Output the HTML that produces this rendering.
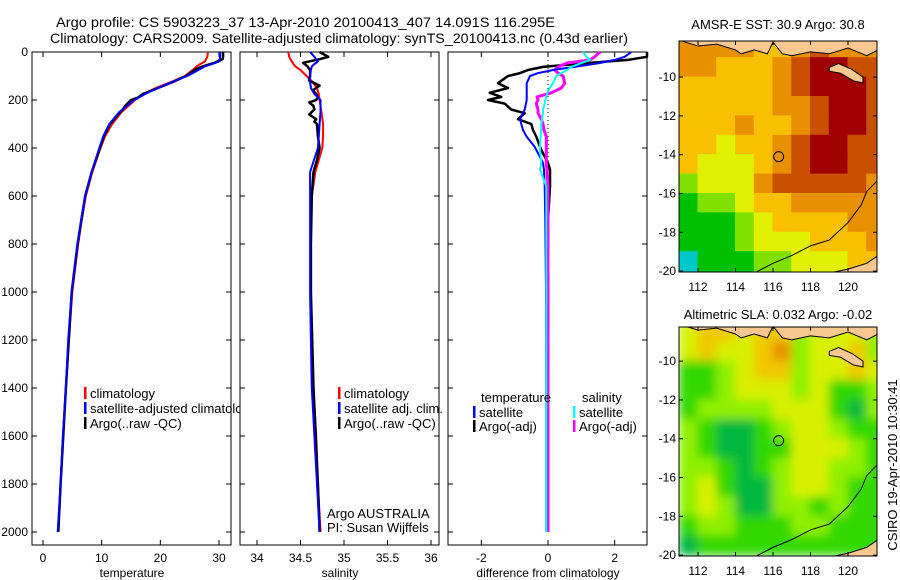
<!DOCTYPE html>
<html><head><meta charset="utf-8">
<style>
html,body{margin:0;padding:0;background:#fff;}
svg{display:block;font-family:"Liberation Sans",sans-serif;}
text{fill:#000;}
</style></head>
<body>
<svg id="fig" width="900" height="580" viewBox="0 0 900 580" xmlns="http://www.w3.org/2000/svg">
<text x="56" y="27" font-size="14" textLength="499" lengthAdjust="spacingAndGlyphs">Argo profile: CS 5903223_37 13-Apr-2010 20100413_407 14.091S 116.295E</text>
<text x="50" y="43" font-size="14" textLength="578" lengthAdjust="spacingAndGlyphs">Climatology: CARS2009. Satellite-adjusted climatology: synTS_20100413.nc (0.43d earlier)</text>
<g id="plots"></g>
<text x="778" y="29" font-size="13" text-anchor="middle">AMSR-E SST: 30.9 Argo: 30.8</text>
<text x="778" y="319" font-size="13" text-anchor="middle">Altimetric SLA: 0.032 Argo: -0.02</text>
<text transform="translate(897,465) rotate(-90)" font-size="13" text-anchor="middle">CSIRO 19-Apr-2010 10:30:41</text>
</svg>
<script>
// ---------- data ----------
const depths = [0,20,40,50,60,75,100,125,150,175,200,250,300,350,400,500,600,700,800,1000,1200,1400,1600,1800,2000];
const tempClim = [28.1,28,27.6,26.8,26.2,25.5,24.2,21.8,19.2,17.2,15.7,13.4,11.8,10.6,9.8,8.4,7.3,6.6,6.0,5.0,4.4,3.9,3.4,3.0,2.6];
const tempSat  = [30.2,30.2,30.0,28.8,27.6,26.5,24.6,22,19.6,17.4,15.6,13.0,11.3,10.3,9.6,8.3,7.2,6.5,5.9,4.9,4.3,3.9,3.4,3.0,2.5];
const argoDepths = [0,20,30,45,60,75,100,120,140,160,175,190,200,210,225,240,260,280,290,300,350,400,450,500,600,800,1000,1400,1800,2000];
const tempArgo = [30.7,30.7,30.6,29.2,27.2,25.8,24.4,22.6,20.6,18.6,17.0,16.2,15.0,14.6,14.0,13.6,12.8,12.1,11.8,11.4,10.4,9.7,9.0,8.3,7.2,5.9,4.9,3.9,3.0,2.6];
const salClim = [34.36,34.37,34.40,34.42,34.44,34.50,34.57,34.64,34.69,34.71,34.72,34.74,34.76,34.76,34.75,34.67,34.63,34.62,34.62,34.62,34.63,34.65,34.68,34.70,34.73];
const salSat  = [34.61,34.66,34.70,34.66,34.63,34.62,34.61,34.61,34.62,34.66,34.73,34.73,34.72,34.71,34.70,34.61,34.61,34.61,34.61,34.61,34.62,34.63,34.66,34.69,34.72];
const salArgo = [34.72,34.82,34.72,34.53,34.58,34.61,34.61,34.60,34.72,34.64,34.68,34.70,34.68,34.60,34.65,34.66,34.60,34.68,34.66,34.69,34.70,34.72,34.69,34.65,34.63,34.62,34.62,34.65,34.70,34.72];
const dDepths = [0,20,33,46,62,75,88,100,130,150,170,187,200,215,240,255,280,300,325,353,395,408,463,490,560,700,1000,1500,2000];
const dTempArgo = [3.0,3.0,2.4,1.2,-0.15,-0.6,-0.84,-1.2,-1.5,-1.2,-1.75,-1.4,-1.8,-1.3,-1.1,-0.7,-0.9,-0.5,-0.45,-0.35,-0.24,-0.2,0.0,0.06,0.06,0.0,0.0,0.0,0.0];
const dTempSat  = [2.5,2.3,2.0,1.56,0.8,0.15,-0.3,-0.54,-0.64,-0.64,-0.64,-0.64,-0.64,-0.66,-0.7,-0.75,-0.84,-0.8,-0.75,-0.64,-0.4,-0.35,-0.15,-0.12,-0.1,-0.08,-0.06,-0.05,-0.05];
const dSalArgo  = [1.56,1.4,1.27,0.57,0.3,0.2,0.3,0.45,0.5,0.4,0.1,-0.33,-0.3,-0.35,-0.3,-0.3,-0.2,-0.15,-0.12,-0.05,-0.05,-0.05,-0.05,-0.03,0.0,0.0,0.0,0.0,0.0];
const dSalSat   = [1.06,1.15,1.27,1.0,0.7,0.57,0.4,0.25,0.15,0.05,-0.02,-0.06,-0.08,-0.1,-0.15,-0.15,-0.18,-0.2,-0.2,-0.22,-0.24,-0.24,-0.2,-0.24,-0.05,-0.05,-0.05,-0.05,-0.05];
const depthTicks = [0,200,400,600,800,1000,1200,1400,1600,1800,2000];
const tempTicks = [0,10,20,30];
const salTicks = [34,34.5,35,35.5,36];
const diffTicks = [-2,0,2];
const lonTicks = [112,114,116,118,120];
const latTicks = [-10,-12,-14,-16,-18,-20];
const gridLons = [111,112,113,114,115,116,117,118,119,120,121];
const gridLats = [-8,-9,-10,-11,-12,-13,-14,-15,-16,-17,-18,-19];
const sstGrid = [
[5,5,5,5,4,4,5,6,5,5,5],
[5,5,4,4,4,5,6,7,7,6,6],
[4,4,4,4,4,5,6,7,7,7,6],
[4,4,4,4,4,5,5,6,7,7,6],
[4,4,4,5,4,4,5,6,7,7,6],
[4,4,3,4,4,5,6,7,7,6,6],
[4,3,3,3,4,5,6,7,7,6,6],
[2,3,3,3,5,6,6,6,6,6,5],
[1,2,2,3,4,4,5,5,5,5,5],
[1,1,1,2,3,4,4,4,4,5,5],
[0.5,1,1,2,3,3,3,4,4,4,5],
[0,1,1,1,2,2,3,3,3,4,4]];
const slaGrid = [
[3,4,4,3,4,4,2,3,3,3,2],
[3,4,3,3,4,5,2,3,3,4,2],
[1,1,2,3,4,4,2,3,3,4,3],
[1,1,2,3,3,3,2,3,1,1,2],
[1,2,2,2,2,3,3,3,1,0,2],
[2,1,0,0,1,2,3,3,2,1,1],
[2,1,0,0,1,1,3,3,3,2,1],
[2,2,1,0,1,2,3,3,2,2,1],
[2,3,1,0,0,2,3,3,2,1,1],
[2,3,2,0,0,2,2,1,2,1,1],
[1,2,2,1,1,1,2,2,1,1,1],
[0,1,1,1,1,1,1,1,1,1,1]];
const argoLon = 116.3, argoLat = -14.1;

// ---------- helpers ----------
const NS = "http://www.w3.org/2000/svg";
const root = document.getElementById('plots');
function mk(tag, attrs, parent){const e=document.createElementNS(NS,tag);for(const k in attrs)e.setAttribute(k,attrs[k]);(parent||root).appendChild(e);return e;}
const yD = d => 52 + d*0.24;
function lin(d0,d1,p0,p1){return v=>p0+(v-d0)*(p1-p0)/(d1-d0);}

function panel(x0,name,xs,ticks,xlabel,showDepth){
  const g = mk('g',{});
  
  
  const r = mk('rect',{x:x0,y:52,width:199,height:493,fill:'#fff',stroke:'#000','stroke-width':1},g);
  
  
  ticks.forEach(t=>{
    const x=xs(t);
    mk('line',{x1:x,y1:545,x2:x,y2:540,stroke:'#000'},g);
    mk('line',{x1:x,y1:52,x2:x,y2:57,stroke:'#000'},g);
    const tx=mk('text',{x:x,y:562,'font-size':12,'text-anchor':'middle'},g);
    tx.textContent=t;
    
    
  });
  depthTicks.forEach(d=>{
    const y=yD(d);
    mk('line',{x1:x0,y1:y,x2:x0+5,y2:y,stroke:'#000'},g);
    mk('line',{x1:x0+199,y1:y,x2:x0+194,y2:y,stroke:'#000'},g);
    if(showDepth){
      const tx=mk('text',{x:x0-4,y:y+4,'font-size':12,'text-anchor':'end'},g);
      tx.textContent=d;
      
      
    }
  });
  const lb=mk('text',{x:x0+100,y:577,'font-size':12,'text-anchor':'middle'},g);
  lb.textContent=xlabel;
  
  
  return g;
}
function series(g,xs,vals,ds,color,w,name,x0){
  const pts = vals.map((v,i)=>{let x=xs(v);x=Math.max(x0,Math.min(x0+199,x));return x.toFixed(1)+','+yD(ds[i]).toFixed(1);}).join(' ');
  const p=mk('polyline',{points:pts,fill:'none',stroke:color,'stroke-width':w,'stroke-linejoin':'round'},g);
  
  
}
function legend(g,x,y,color,label){
  mk('rect',{x:x,y:y-10,width:2.5,height:12,fill:color},g);
  const t=mk('text',{x:x+6,y:y+1,'font-size':13},g);
  t.textContent=label;
  
  
}

// Temperature panel
const xT = lin(0,30,43,219);
const g1 = panel(32,'temperature-panel',xT,tempTicks,'temperature',true);
series(g1,xT,tempClim,depths,'#f00',2,'temp-climatology-line',32);
series(g1,xT,tempArgo,argoDepths,'#000',2.5,'temp-argo-line',32);
series(g1,xT,tempSat,depths,'#00f',2,'temp-satellite-line',32);
legend(g1,84,397,'#f00','climatology');
legend(g1,84,412,'#00f','satellite-adjusted climatology');
legend(g1,84,427,'#000','Argo(..raw -QC)');

// Salinity panel
const xS = lin(34,36,257,431);
const g2 = panel(240,'salinity-panel',xS,salTicks,'salinity',false);
series(g2,xS,salClim,depths,'#f00',2,'sal-climatology-line',240);
series(g2,xS,salArgo,argoDepths,'#000',2.5,'sal-argo-line',240);
series(g2,xS,salSat,depths,'#00f',2,'sal-satellite-line',240);
legend(g2,338,397,'#f00','climatology');
legend(g2,338,412,'#00f','satellite adj. clim.');
legend(g2,338,427,'#000','Argo(..raw -QC)');
let t=mk('text',{x:327,y:518,'font-size':13},g2);t.textContent='Argo AUSTRALIA';


t=mk('text',{x:327,y:532,'font-size':13},g2);t.textContent='PI: Susan Wijffels';



// Difference panel
const xDf = lin(-3,3,448,648);
const g3 = panel(448,'difference-panel',xDf,diffTicks,'difference from climatology',false);
mk('line',{x1:xDf(0),y1:52,x2:xDf(0),y2:532,stroke:'#000','stroke-dasharray':'1,3'},g3);
series(g3,xDf,dTempArgo,dDepths,'#000',2.5,'diff-temp-argo-line',448);
series(g3,xDf,dSalArgo,dDepths,'#f0f',3,'diff-sal-argo-line',448);
series(g3,xDf,dTempSat,dDepths,'#00f',2,'diff-temp-satellite-line',448);
series(g3,xDf,dSalSat,dDepths,'#0ff',2,'diff-sal-satellite-line',448);
t=mk('text',{x:481,y:402,'font-size':13},g3);t.textContent='temperature';


t=mk('text',{x:582,y:402,'font-size':13},g3);t.textContent='salinity';


legend(g3,473,416,'#00f','satellite');
legend(g3,473,430,'#000','Argo(-adj)');
legend(g3,573,416,'#0ff','satellite');
legend(g3,573,430,'#f0f','Argo(-adj)');

// Maps
const sstCols=['#00c8c8','#00c000','#80e000','#e0f000','#f8c000','#e89000','#c85000','#a00000'];
const slaCols=['#00b840','#30d800','#90f000','#d8f000','#f0c800','#e89000'];
function colorFor(cols,v){const i=Math.max(0,Math.min(cols.length-1,Math.round(v)));return cols[i];}
const mx = lin(112,120,698,848);
const land='#f9c890';
function map(y0,y1,latTop,grid,cols,name,blur){
  const my = la => y0 + (latTop-la)*19.4;
  const g=mk('g',{});
  
  
  const cid='clip-'+name;
  const cp=mk('clipPath',{id:cid},g);
  mk('rect',{x:679,y:y0,width:198,height:y1-y0},cp);
  const inner=mk('g',{'clip-path':'url(#'+cid+')'},g);
  const cells=mk('g',blur?{filter:'url(#blur)'}:{},inner);
  grid.forEach((row,r)=>row.forEach((v,c)=>{
    const x=mx(gridLons[c]), y=my(gridLats[r]);
    const cell=mk('rect',{x:x-0.5,y:y-0.5,width:mx(gridLons[c]+1)-x+1,height:19.4+1,fill:colorFor(cols,v)},cells);
    
    
  }));
  // land: top coast and islands
  const coast=[[111,-8.1],[112,-8.4],[113,-8.3],[114,-8.6],[114.3,-8.8],[115,-8.6],[115.7,-8.8],[116,-8.2],[116.5,-8.8],[117,-8.9],[118,-8.7],[119,-8.8],[120,-8.5],[121,-8.9],[121.6,-8.6],[121.6,-7],[111,-7]];
  const lp=mk('polygon',{points:coast.map(p=>mx(p[0])+','+my(p[1])).join(' '),fill:land,stroke:'#000','stroke-width':1},inner);
  
  
  const sumba=[[119,-9.5],[119.5,-9.3],[120.2,-9.6],[120.8,-10.0],[120.8,-10.3],[120.3,-10.2],[119.6,-9.8],[119,-9.7]];
  const sp=mk('polygon',{points:sumba.map(p=>mx(p[0])+','+my(p[1])).join(' '),fill:land,stroke:'#000','stroke-width':1},inner);
  
  
  const aus=[[115,-20.1],[116,-19.6],[117,-19.2],[118,-18.7],[119,-18.4],[120,-17.5],[120.7,-16.6],[121,-15.9],[121.6,-15.3],[121.6,-21],[115,-21]];
  const ap=mk('polyline',{points:aus.slice(0,9).map(p=>mx(p[0])+','+my(p[1])).join(' '),fill:'none',stroke:'#000','stroke-width':1},inner);
  
  
  const corner=[[119,-20.1],[120,-19.9],[121,-19.6],[121.6,-19.2],[121.6,-21],[119,-21]];
  mk('polygon',{points:corner.map(p=>mx(p[0])+','+my(p[1])).join(' '),fill:land,stroke:'#000','stroke-width':1},inner);
  const ci=mk('circle',{cx:mx(argoLon),cy:my(argoLat),r:5,fill:'none',stroke:'#000','stroke-width':1},g);
  
  
  mk('rect',{x:679,y:y0,width:198,height:y1-y0,fill:'none',stroke:'#000'},g);
  lonTicks.forEach(l=>{
    const x=mx(l);
    mk('line',{x1:x,y1:y0,x2:x,y2:y0+4,stroke:'#000'},g);
    mk('line',{x1:x,y1:y1,x2:x,y2:y1-4,stroke:'#000'},g);
    const tx=mk('text',{x:x,y:y1+19,'font-size':12,'text-anchor':'middle'},g);
    tx.textContent=l;
    
    
  });
  latTicks.forEach(la=>{
    const y=my(la);
    mk('line',{x1:877,y1:y,x2:873,y2:y,stroke:'#000'},g);
    mk('line',{x1:679,y1:y,x2:683,y2:y,stroke:'#000'},g);
    const tx=mk('text',{x:676,y:y+4,'font-size':12,'text-anchor':'end'},g);
    tx.textContent=la;
    
    
  });
}
const defs=mk('defs',{});
const f=mk('filter',{id:'blur',x:'-5%',y:'-5%',width:'110%',height:'110%'},defs);
mk('feGaussianBlur',{stdDeviation:5,edgeMode:'duplicate'},f);
map(41,272,-8.14,sstGrid,sstCols,'sst-map',false);
map(327,556,-8.24,slaGrid,slaCols,'sla-map',true);
</script>
</body></html>
